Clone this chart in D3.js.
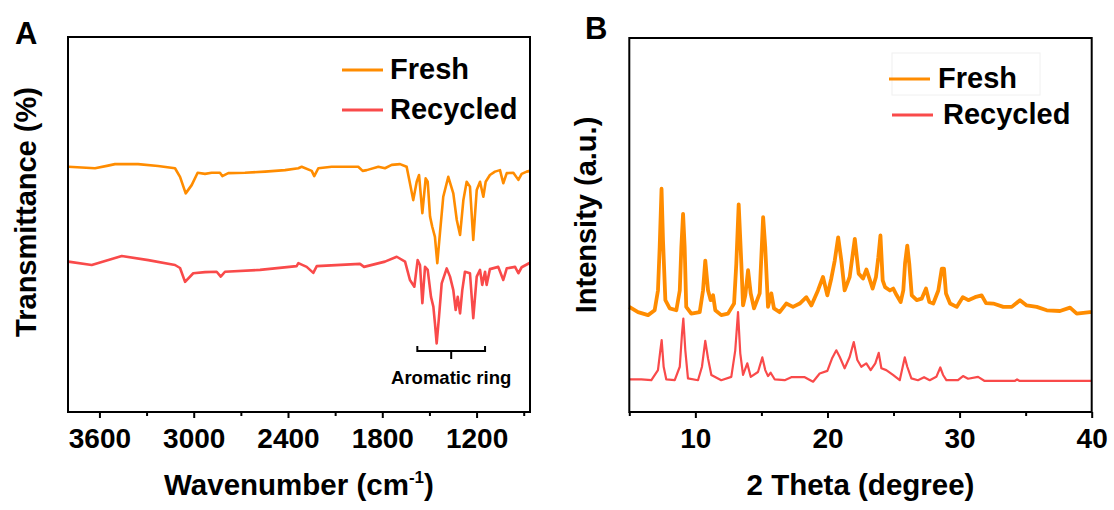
<!DOCTYPE html>
<html><head><meta charset="utf-8">
<script src="https://cdn.jsdelivr.net/npm/d3@7"></script>
<style>
body{margin:0;background:#fff}
svg{display:block}
text{font-family:"Liberation Sans",Arial,sans-serif;font-weight:bold;fill:#000}
</style>
</head><body>
<svg id="c" width="1114" height="510"></svg>
<script>
// ---------- data ----------
const seriesNames = ["Fresh", "Recycled"];
const seriesColors = ["#ff8c00", "#f94a4a"];

const irMajorTicks = [3600, 3000, 2400, 1800, 1200];
const irMinorTicks = [3300, 2700, 2100, 1500, 900];
const irDomain = [3800, 860];

const xrdMajorTicks = [10, 20, 30, 40];
const xrdMinorTicks = [5, 15, 25, 35];
const xrdDomain = [5, 40];

// FTIR transmittance (arb. %, offset traces) : [wavenumber, value]
const irFresh = [[3798,65.4],[3628,65.0],[3545,65.7],[3501,66.1],[3354,66.1],[3227,65.6],[3119,65.0],[3087,62.7],[3051,58.3],[3013,60.5],[2975,63.8],[2928,63.5],[2886,63.8],[2833,63.8],[2818,62.9],[2780,63.7],[2674,63.8],[2546,64.1],[2419,64.5],[2334,65.0],[2313,65.4],[2249,64.3],[2233,62.9],[2207,65.0],[2122,65.4],[1953,65.4],[1925,64.3],[1899,64.5],[1825,65.4],[1783,65.0],[1740,65.9],[1687,66.1],[1645,65.4],[1624,61.0],[1603,56.5],[1581,61.4],[1566,63.2],[1545,53.0],[1524,62.3],[1511,61.4],[1496,52.1],[1482,49.4],[1465,46.7],[1450,39.7],[1433,47.7],[1412,57.4],[1380,62.7],[1348,58.3],[1326,51.2],[1305,47.2],[1284,56.5],[1263,61.4],[1242,60.1],[1221,45.9],[1199,59.2],[1178,61.4],[1157,57.4],[1142,61.4],[1115,63.2],[1083,64.1],[1051,64.5],[1030,61.0],[1008,63.7],[966,63.8],[934,61.9],[913,63.5],[881,64.1],[860,64.3]];
const irRecycled = [[3798,40.1],[3649,39.2],[3458,41.6],[3289,40.5],[3119,39.2],[3087,38.4],[3055,34.7],[3003,37.0],[2928,37.3],[2854,37.4],[2828,36.1],[2801,37.4],[2578,37.9],[2345,38.9],[2334,39.7],[2281,38.7],[2239,37.1],[2217,38.9],[1942,39.5],[1916,38.7],[1783,40.1],[1708,41.4],[1655,40.1],[1624,35.2],[1596,33.4],[1575,40.5],[1560,39.2],[1545,29.0],[1528,38.7],[1511,37.9],[1490,30.7],[1475,28.1],[1465,23.7],[1454,18.3],[1439,25.4],[1422,34.3],[1390,38.3],[1369,36.1],[1348,32.5],[1333,27.2],[1320,30.7],[1305,26.3],[1291,32.5],[1274,37.4],[1242,37.0],[1221,25.0],[1199,36.1],[1178,37.9],[1164,33.9],[1146,37.4],[1136,33.9],[1115,38.1],[1062,38.7],[1030,35.2],[1008,38.3],[955,38.7],[934,37.0],[913,38.6],[860,39.8]];

// XRD intensity (a.u., offset traces) : [2theta, value]
const xrdFresh = [[5.0,28.1],[5.66,26.7],[6.42,25.9],[6.92,27.2],[7.17,32.5],[7.30,44.1],[7.44,59.7],[7.55,45.9],[7.73,29.9],[8.06,27.7],[8.56,27.2],[8.82,32.5],[8.94,44.1],[9.07,53.0],[9.19,44.1],[9.31,28.1],[9.69,26.3],[10.33,26.7],[10.58,32.5],[10.75,40.5],[10.96,32.5],[11.16,29.9],[11.34,31.2],[11.51,27.2],[11.96,25.9],[12.47,26.3],[12.93,29.0],[13.10,39.7],[13.28,55.5],[13.48,39.7],[13.61,28.5],[13.78,31.2],[13.99,37.9],[14.19,31.7],[14.44,27.7],[14.87,31.7],[15.13,52.1],[15.29,44.1],[15.50,28.1],[15.75,31.7],[15.95,27.7],[16.38,26.7],[16.88,29.0],[17.39,28.1],[17.90,29.0],[18.40,30.7],[18.78,28.5],[19.28,32.5],[19.66,36.1],[19.99,31.2],[20.29,35.7],[20.55,40.5],[20.81,46.7],[21.05,40.5],[21.30,32.5],[21.68,36.1],[22.07,46.3],[22.36,37.0],[22.69,35.7],[22.95,38.1],[23.22,35.2],[23.42,33.0],[23.67,36.1],[23.85,41.4],[24.01,47.2],[24.18,35.2],[24.36,33.4],[24.73,32.5],[24.98,33.0],[25.24,31.2],[25.54,29.4],[25.74,32.5],[25.87,39.7],[26.04,44.5],[26.19,39.7],[26.38,31.2],[26.76,29.9],[27.13,30.3],[27.46,33.0],[27.71,29.4],[28.01,29.0],[28.39,32.5],[28.65,38.3],[28.82,38.3],[28.97,31.7],[29.28,29.0],[29.78,28.1],[30.24,30.7],[30.66,29.9],[31.17,30.7],[31.67,31.2],[32.00,29.1],[32.55,29.0],[33.31,28.1],[33.95,28.1],[34.57,29.9],[35.08,28.5],[35.84,28.1],[36.60,27.2],[37.60,27.0],[38.36,27.9],[38.87,26.3],[39.87,26.7],[40.0,26.7]];
const xrdRecycled = [[5.03,8.7],[5.91,8.7],[6.67,8.5],[7.17,11.2],[7.35,16.5],[7.45,19.2],[7.60,12.1],[7.80,8.7],[8.44,8.5],[8.82,12.1],[8.99,21.0],[9.09,25.0],[9.24,16.5],[9.44,9.0],[10.20,8.5],[10.50,12.1],[10.75,19.0],[10.96,14.3],[11.21,9.9],[11.96,8.5],[12.72,9.4],[13.02,16.5],[13.23,26.7],[13.40,15.7],[13.61,9.9],[13.93,13.0],[14.19,9.4],[14.74,10.7],[15.07,14.6],[15.29,11.2],[15.50,9.6],[15.70,10.5],[16.01,8.7],[16.76,8.5],[17.26,9.3],[18.28,9.3],[18.91,8.1],[19.41,10.3],[19.99,11.0],[20.34,14.3],[20.67,16.5],[20.93,14.7],[21.30,11.7],[21.68,14.7],[21.99,18.7],[22.26,13.9],[22.56,12.1],[22.94,13.0],[23.27,11.2],[23.62,13.0],[23.88,15.8],[24.08,11.7],[24.45,11.2],[24.96,9.9],[25.47,8.5],[25.72,12.5],[25.85,14.6],[26.04,12.1],[26.35,9.0],[26.85,8.5],[27.31,9.3],[27.74,8.5],[28.24,9.4],[28.54,11.9],[28.75,9.9],[29.00,8.5],[29.88,8.5],[30.26,9.6],[30.64,8.9],[31.40,9.4],[31.90,8.3],[34.17,8.3],[34.35,8.7],[34.55,8.3],[40.0,8.3]];

// annotation: aromatic ring bracket range (cm-1) and level
const aromaticRange = [1577, 1146];
const aromaticLevel = 16.3;

// ---------- drawing ----------
const svg = d3.select("#c");

function panel(opts) {
  const {left, right, top, bottom, xDomain, major, minor, series, strokeW, letter, letterPos,
         yTitle, yTitleX, yTitleY, xTitleParts, legend} = opts;
  const x = d3.scaleLinear().domain(xDomain).range([left, right]);
  const y = d3.scaleLinear().domain([0, 100]).range([bottom, top]);
  const g = svg.append("g");

  const line = d3.line().x(d => x(d[0])).y(d => y(d[1])).curve(d3.curveLinear);
  series.forEach((s, i) => {
    g.append("path").datum(s).attr("d", line)
      .attr("fill", "none").attr("stroke", seriesColors[i])
      .attr("stroke-width", strokeW[i]).attr("stroke-linejoin", "round");
  });

  g.append("rect").attr("x", left).attr("y", top)
    .attr("width", right - left).attr("height", bottom - top)
    .attr("fill", "none").attr("stroke", "#000").attr("stroke-width", 2);

  const ax = g.append("g").attr("transform", `translate(0,${bottom})`)
    .call(d3.axisBottom(x).tickValues(major).tickSize(6).tickSizeOuter(0).tickFormat(d3.format("d")));
  ax.select(".domain").remove();
  ax.selectAll(".tick line").attr("stroke-width", 2);
  ax.selectAll(".tick text").attr("y", 36).attr("dy", null)
    .style("font-size", "28px").style("font-family", '"Liberation Sans",Arial,sans-serif')
    .style("font-weight", "bold");
  const axm = g.append("g").attr("transform", `translate(0,${bottom})`)
    .call(d3.axisBottom(x).tickValues(minor).tickSize(4).tickSizeOuter(0).tickFormat(""));
  axm.select(".domain").remove();
  axm.selectAll(".tick line").attr("stroke-width", 2);

  g.append("text").attr("x", letterPos[0]).attr("y", letterPos[1])
    .style("font-size", "31px").text(letter);

  g.append("text").attr("transform", `translate(${yTitleX},${yTitleY}) rotate(-90)`)
    .attr("text-anchor", "middle").style("font-size", "29px").text(yTitle);

  const xt = g.append("text").attr("x", (left + right) / 2).attr("y", 495)
    .attr("text-anchor", "middle").style("font-size", "29.5px");
  xTitleParts.forEach(p => {
    const t = xt.append("tspan").text(p.t);
    if (p.sup) t.attr("dy", -12).style("font-size", "17px");
    if (p.after) t.attr("dy", 12);
  });

  if (legend.box) {
    g.append("rect").attr("x", legend.box[0]).attr("y", legend.box[1])
      .attr("width", legend.box[2]).attr("height", legend.box[3])
      .attr("fill", "none").attr("stroke", "#f0f0f0").attr("stroke-width", 1);
  }
  seriesNames.forEach((n, i) => {
    const r = legend.rows[i];
    g.append("line").attr("x1", r[0]).attr("x2", r[0] + 41).attr("y1", r[1]).attr("y2", r[1])
      .attr("stroke", seriesColors[i]).attr("stroke-width", 3);
    g.append("text").attr("x", r[2]).attr("y", r[1] + 9).style("font-size", "29px").text(n);
  });
  return {x, y, g};
}

const A = panel({
  left: 68, right: 530, top: 37, bottom: 412,
  xDomain: irDomain, major: irMajorTicks, minor: irMinorTicks,
  series: [irFresh, irRecycled], strokeW: [2.6, 2.6],
  letter: "A", letterPos: [15, 44],
  yTitle: "Transmittance (%)", yTitleX: 36, yTitleY: 212,
  xTitleParts: [{t: "Wavenumber (cm"}, {t: "-1", sup: true}, {t: ")", after: true}],
  legend: {rows: [[342, 70, 390], [342, 110, 390]]}
});

{
  const x = A.x, y = A.y, g = A.g;
  const x0 = x(aromaticRange[0]), x1 = x(aromaticRange[1]), yy = y(aromaticLevel);
  const xm = (x0 + x1) / 2;
  g.append("path")
    .attr("d", `M${x0},${yy - 5}V${yy}H${x1}V${yy - 5}M${xm},${yy}V${yy + 8}`)
    .attr("fill", "none").attr("stroke", "#000").attr("stroke-width", 2);
  g.append("text").attr("x", xm).attr("y", 384).attr("text-anchor", "middle")
    .style("font-size", "18.5px").text("Aromatic ring");
}

panel({
  left: 629.3, right: 1091.7, top: 38, bottom: 412,
  xDomain: xrdDomain, major: xrdMajorTicks, minor: xrdMinorTicks,
  series: [xrdFresh, xrdRecycled], strokeW: [3.8, 2.2],
  letter: "B", letterPos: [585, 39],
  yTitle: "Intensity (a.u.)", yTitleX: 596, yTitleY: 215,
  xTitleParts: [{t: "2 Theta (degree)"}],
  legend: {box: [892, 53, 148, 42], rows: [[889, 79, 938], [892, 115, 943]]}
});
</script>
</body></html>
